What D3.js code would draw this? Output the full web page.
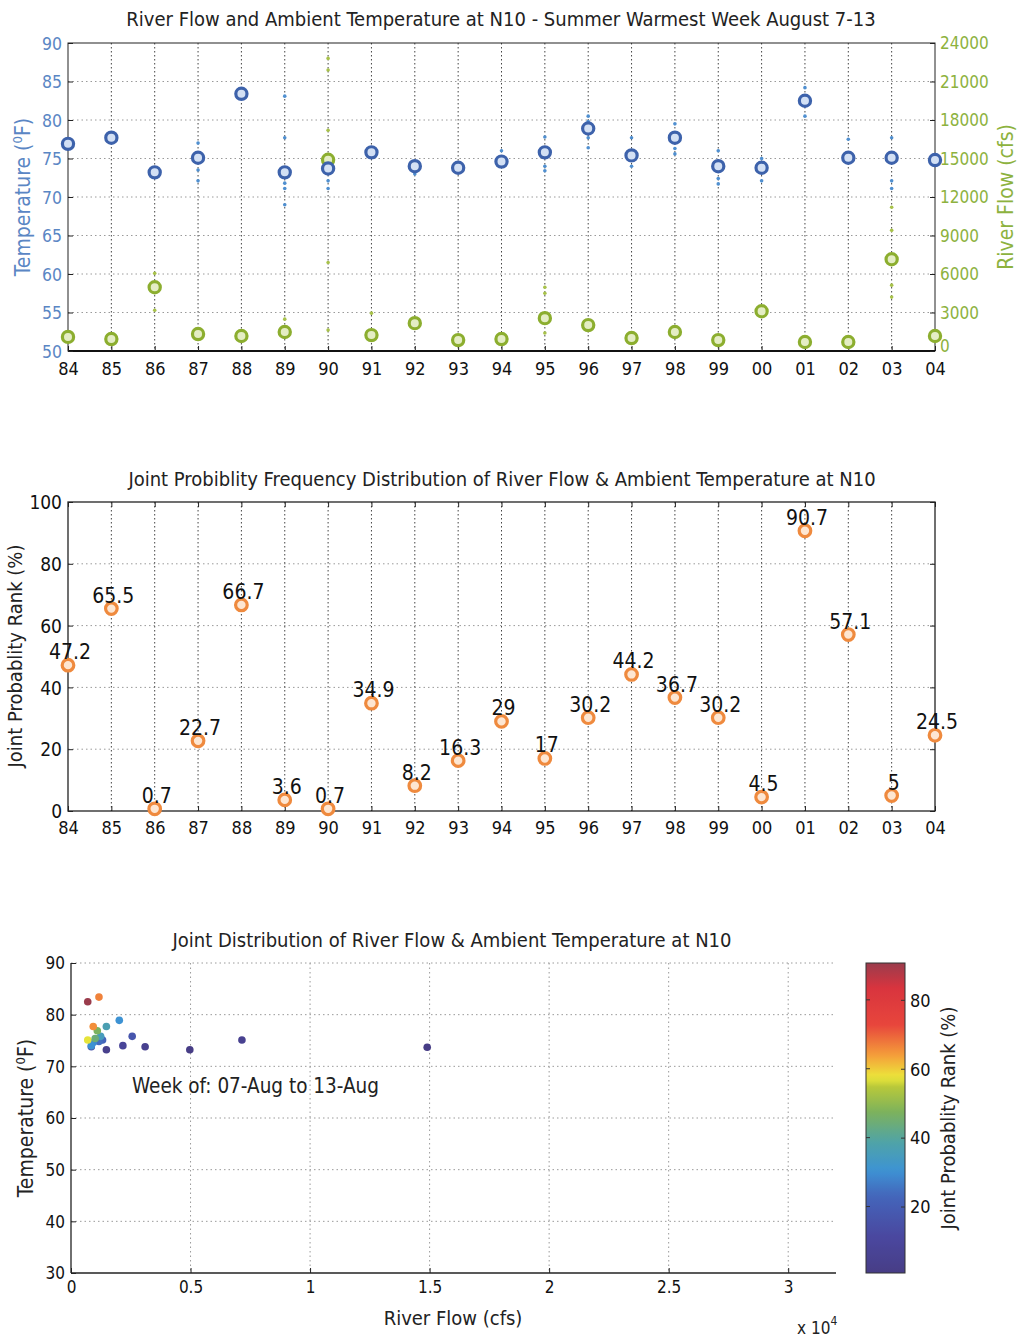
<!DOCTYPE html>
<html><head><meta charset="utf-8">
<script src="https://cdn.jsdelivr.net/npm/d3@7"></script>
<style>
body{margin:0;background:#fff;}
text{font-family:'Liberation Sans Narrow','Arial Narrow','DejaVu Sans Condensed','Liberation Sans',sans-serif;}
</style></head><body>
<svg id="c" width="1020" height="1339" xmlns="http://www.w3.org/2000/svg"></svg>
<script>
// ---------------- DATA ----------------
const years = ["84","85","86","87","88","89","90","91","92","93","94","95","96","97","98","99","00","01","02","03","04"];
const temperature = [76.9,77.7,73.2,75.1,83.4,73.2,73.7,75.8,74.0,73.8,74.6,75.8,78.9,75.4,77.7,74.0,73.8,82.5,75.1,75.1,74.8];
const flow = [1100,930,4970,1320,1170,1480,14900,1240,2170,850,930,2560,2020,1010,1480,850,3100,700,700,7150,1170];
const rank = [47.2,65.5,0.7,22.7,66.7,3.6,0.7,34.9,8.2,16.3,29,17,30.2,44.2,36.7,30.2,4.5,90.7,57.1,5,24.5];
const rankLabels = ["47.2","65.5","0.7","22.7","66.7","3.6","0.7","34.9","8.2","16.3","29","17","30.2","44.2","36.7","30.2","4.5","90.7","57.1","5","24.5"];
// daily values shown as small dots along each year
const dailyTemp = [["87",77.0],["87",73.5],["87",72.1],["89",83.1],["89",77.7],["89",71.8],["89",71.1],["89",69.0],
  ["90",72.1],["90",71.1],["92",73.0],["94",76.0],["95",77.8],["95",74.0],["95",73.4],["96",80.5],["96",79.8],["96",77.7],["96",76.4],
  ["97",77.7],["97",74.0],["98",79.5],["98",76.3],["98",75.6],["99",76.0],["99",72.4],["99",71.7],["00",75.0],["00",72.1],
  ["01",84.2],["01",80.5],["02",77.5],["03",77.7],["03",72.1],["03",71.1]];
const dailyFlow = [["86",6050],["86",3180],["89",2480],["90",22800],["90",21900],["90",17200],["90",6900],["90",1630],["91",2950],
  ["95",4970],["95",4500],["95",1400],["03",11200],["03",9400],["03",5130],["03",4200]];
const tempTicks = [50,55,60,65,70,75,80,85,90];
const flowTicks = [0,3000,6000,9000,12000,15000,18000,21000,24000];
const rankTicks = [0,20,40,60,80,100];
const flowTicksB = [0,5000,10000,15000,20000,25000,30000];
const tempTicksB = [30,40,50,60,70,80,90];
const cbarTicks = [20,40,60,80];

// ---------------- SETUP ----------------
const svg = d3.select("#c");
svg.append("rect").attr("width",1020).attr("height",1339).attr("fill","#fff");
const BLUE = "#3d62ab", BLUE_T = "#5a86c4", GREEN = "#8cae2f", GREEN_T = "#8db23e", ORANGE = "#ef8a3e";

function hGrid(g, scale, ticks, x0, x1, color){
  g.selectAll(null).data(ticks).enter().append("line")
    .attr("x1",x0).attr("x2",x1).attr("y1",d=>scale(d)).attr("y2",d=>scale(d))
    .attr("stroke",color||"#9a9a9a").attr("stroke-width",1).attr("stroke-dasharray","1.5,3");
}
function vGrid(g, xs, y0, y1, color){
  g.selectAll(null).data(xs).enter().append("line")
    .attr("x1",d=>d).attr("x2",d=>d).attr("y1",y0).attr("y2",y1)
    .attr("stroke",color||"#444").attr("stroke-width",1).attr("stroke-dasharray","1.5,2.5");
}
function tempLabel(sel){
  sel.append("tspan").text("Temperature (");
  sel.append("tspan").attr("dy",-8).attr("font-size",13).text("0");
  sel.append("tspan").attr("dy",8).text("F)");
}

// ================= CHART 1 =================
const x1 = d3.scalePoint().domain(years).range([68,935]);
const yT = d3.scaleLinear().domain([50,90]).range([351,43]);
const yF = d3.scaleLinear().domain([0,24000]).range([351,43]);
const g1 = svg.append("g");
hGrid(g1, yT, tempTicks.slice(1,-1), 68, 935);
vGrid(g1, years.slice(1,-1).map(d=>x1(d)), 43, 351);
g1.append("rect").attr("x",68).attr("y",43).attr("width",867).attr("height",308).attr("fill","none").attr("stroke","#222").attr("stroke-width",1);
g1.append("line").attr("x1",68).attr("x2",935).attr("y1",351).attr("y2",351).attr("stroke","#111").attr("stroke-width",2.2);

const axL = g1.append("g").attr("transform","translate(68,0)").call(d3.axisLeft(yT).tickValues(tempTicks).tickSizeInner(-5).tickSizeOuter(0).tickPadding(6));
axL.select(".domain").remove();
axL.selectAll("line").attr("stroke","#222");
axL.selectAll("text").attr("fill",BLUE_T).attr("font-size",17.5).attr("dy","0.35em");
const axR = g1.append("g").attr("transform","translate(935,0)").call(d3.axisRight(yF).tickValues(flowTicks).tickSizeInner(-5).tickSizeOuter(0).tickPadding(5).tickFormat(d3.format("d")));
axR.select(".domain").remove();
axR.selectAll("line").attr("stroke","#222");
axR.selectAll("text").attr("fill",GREEN_T).attr("font-size",17).attr("dy",d=>d===0?"0.05em":"0.35em");
const axB1 = g1.append("g").attr("transform","translate(0,351)").call(d3.axisBottom(x1).tickSizeInner(-5).tickSizeOuter(0).tickPadding(11));
axB1.select(".domain").remove();
axB1.selectAll("line").attr("stroke","#222");
axB1.selectAll("text").attr("fill","#111").attr("font-size",18);

g1.selectAll(null).data(dailyTemp).enter().append("circle")
  .attr("cx",d=>x1(d[0])).attr("cy",d=>yT(d[1])).attr("r",1.8).attr("fill","#4f8fd0");
g1.selectAll(null).data(dailyFlow).enter().append("circle")
  .attr("cx",d=>x1(d[0])).attr("cy",d=>yF(d[1])).attr("r",1.8).attr("fill","#a8c24a");

g1.selectAll(null).data(years).enter().append("circle")
  .attr("cx",d=>x1(d)).attr("cy",(d,i)=>yF(flow[i])).attr("r",5.6)
  .attr("fill","#e4edc4").attr("stroke",GREEN).attr("stroke-width",3.2);
g1.selectAll(null).data(years).enter().append("circle")
  .attr("cx",d=>x1(d)).attr("cy",(d,i)=>yT(temperature[i])).attr("r",5.6)
  .attr("fill","#d3e0f4").attr("stroke",BLUE).attr("stroke-width",3.2);

g1.append("text").attr("x",501).attr("y",26).attr("text-anchor","middle").attr("font-size",20).attr("fill","#222")
  .text("River Flow and Ambient Temperature at N10 - Summer Warmest Week August 7-13");
g1.append("text").attr("transform","translate(30,197) rotate(-90)").attr("text-anchor","middle").attr("font-size",21).attr("fill",BLUE_T)
  .call(tempLabel);
g1.append("text").attr("transform","translate(1013,197) rotate(-90)").attr("text-anchor","middle").attr("font-size",21).attr("fill",GREEN_T)
  .text("River Flow (cfs)");

// ================= CHART 2 =================
const yR = d3.scaleLinear().domain([0,100]).range([811,502]);
const g2 = svg.append("g");
hGrid(g2, yR, rankTicks.slice(1,-1), 68, 935);
vGrid(g2, years.slice(1,-1).map(d=>x1(d)), 502, 811);
g2.append("rect").attr("x",68).attr("y",502).attr("width",867).attr("height",309).attr("fill","none").attr("stroke","#222").attr("stroke-width",1.3);
const axL2 = g2.append("g").attr("transform","translate(68,0)").call(d3.axisLeft(yR).tickValues(rankTicks).tickSizeInner(-5).tickSizeOuter(0).tickPadding(6));
axL2.select(".domain").remove();
axL2.selectAll("line").attr("stroke","#222");
axL2.selectAll("text").attr("fill","#111").attr("font-size",19).attr("dy","0.35em");
const axR2 = g2.append("g").attr("transform","translate(935,0)").call(d3.axisRight(yR).tickValues(rankTicks).tickSizeInner(-5).tickSizeOuter(0).tickFormat(""));
axR2.select(".domain").remove(); axR2.selectAll("line").attr("stroke","#222");
const axB2 = g2.append("g").attr("transform","translate(0,811)").call(d3.axisBottom(x1).tickSizeInner(-5).tickSizeOuter(0).tickPadding(10));
axB2.select(".domain").remove();
axB2.selectAll("line").attr("stroke","#222");
axB2.selectAll("text").attr("fill","#111").attr("font-size",18);
const axT2 = g2.append("g").attr("transform","translate(0,502)").call(d3.axisTop(x1).tickSizeInner(-5).tickSizeOuter(0).tickFormat(""));
axT2.select(".domain").remove(); axT2.selectAll("line").attr("stroke","#222");

g2.selectAll(null).data(years).enter().append("circle")
  .attr("cx",d=>x1(d)).attr("cy",(d,i)=>yR(rank[i])).attr("r",5.8)
  .attr("fill","#fde6d2").attr("stroke",ORANGE).attr("stroke-width",3.2);
g2.selectAll(null).data(years).enter().append("text")
  .attr("x",d=>x1(d)+2).attr("y",(d,i)=>yR(rank[i])-6).attr("text-anchor","middle")
  .attr("font-size",21).attr("fill","#111").text((d,i)=>rankLabels[i]);

g2.append("text").attr("x",502).attr("y",486).attr("text-anchor","middle").attr("font-size",20).attr("fill","#222")
  .text("Joint Probiblity Frequency Distribution of River Flow & Ambient Temperature at N10");
g2.append("text").attr("transform","translate(22,656) rotate(-90)").attr("text-anchor","middle").attr("font-size",20).attr("fill","#222")
  .text("Joint Probablity Rank (%)");

// ================= CHART 3 =================
const xB = d3.scaleLinear().domain([0,32000]).range([71,836]);
const yB = d3.scaleLinear().domain([30,90]).range([1273,963]);
const rMin = d3.min(rank), rMax = d3.max(rank);
const cStops = [0,0.12,0.25,0.33,0.42,0.52,0.6,0.63,0.7,0.8,0.92,1];
const cCols = ["#473d86","#4a48a0","#4466bb","#3d93d4","#4fa3a8","#7db25c","#b8c83a","#ece83a","#f4a03a","#e8463c","#d8343e","#9a3c4c"];
const cmapT = d3.scaleLinear().domain(cStops).range(cCols).interpolate(d3.interpolateRgb);
const cNorm = d3.scaleLinear().domain([rMin,rMax]).range([0,1]);
const cmap = v => cmapT(cNorm(v));

const g3 = svg.append("g");
hGrid(g3, yB, tempTicksB.slice(1), 71, 836);
g3.selectAll(null).data(flowTicksB.slice(1)).enter().append("line")
  .attr("x1",d=>xB(d)).attr("x2",d=>xB(d)).attr("y1",963).attr("y2",1273)
  .attr("stroke","#9a9a9a").attr("stroke-dasharray","1.5,3");
g3.append("line").attr("x1",71).attr("x2",71).attr("y1",963).attr("y2",1273).attr("stroke","#222").attr("stroke-width",1.3);
g3.append("line").attr("x1",71).attr("x2",836).attr("y1",1273).attr("y2",1273).attr("stroke","#222").attr("stroke-width",1.5);
const axL3 = g3.append("g").attr("transform","translate(71,0)").call(d3.axisLeft(yB).tickValues(tempTicksB).tickSizeInner(-5).tickSizeOuter(0).tickPadding(6));
axL3.select(".domain").remove(); axL3.selectAll("line").attr("stroke","#222");
axL3.selectAll("text").attr("fill","#111").attr("font-size",17).attr("dy","0.35em");
const axB3 = g3.append("g").attr("transform","translate(0,1273)").call(d3.axisBottom(xB).tickValues(flowTicksB).tickSizeInner(-5).tickSizeOuter(0).tickPadding(8).tickFormat(d=>d3.format("")(d/1e4)));
axB3.select(".domain").remove(); axB3.selectAll("line").attr("stroke","#222");
axB3.selectAll("text").attr("fill","#111").attr("font-size",17);

const order = d3.range(years.length).sort((a,b)=>rank[a]-rank[b]);
g3.selectAll(null).data(order).enter().append("circle")
  .attr("cx",i=>xB(flow[i])).attr("cy",i=>yB(temperature[i])).attr("r",3.8)
  .attr("fill",i=>cmap(rank[i]));

g3.append("text").attr("x",452).attr("y",947).attr("text-anchor","middle").attr("font-size",20).attr("fill","#222")
  .text("Joint Distribution of River Flow & Ambient Temperature at N10");
g3.append("text").attr("x",132).attr("y",1093).attr("font-size",20.5).attr("fill","#222").text("Week of: 07-Aug to 13-Aug");
g3.append("text").attr("transform","translate(33,1118) rotate(-90)").attr("text-anchor","middle").attr("font-size",21).attr("fill","#222")
  .call(tempLabel);
g3.append("text").attr("x",453).attr("y",1325).attr("text-anchor","middle").attr("font-size",20).attr("fill","#222").text("River Flow (cfs)");
const x10 = g3.append("text").attr("x",797).attr("y",1334).attr("font-size",17).attr("fill","#222");
x10.append("tspan").text("x 10");
x10.append("tspan").attr("dy",-9).attr("font-size",12).text("4");

// colorbar
const cbY = d3.scaleLinear().domain([rMin,rMax]).range([1273,963]);
const defs = svg.append("defs");
const grad = defs.append("linearGradient").attr("id","cb").attr("x1",0).attr("x2",0).attr("y1",1).attr("y2",0);
grad.selectAll("stop").data(d3.range(0,1.0001,0.02)).enter().append("stop")
  .attr("offset",d=>d).attr("stop-color",d=>cmapT(d));
g3.append("rect").attr("x",866).attr("y",963).attr("width",39).attr("height",310).attr("fill","url(#cb)").attr("stroke","#333").attr("stroke-width",1);
const axC = g3.append("g").attr("transform","translate(905,0)").call(d3.axisRight(cbY).tickValues(cbarTicks).tickSizeInner(-4).tickSizeOuter(0).tickPadding(5));
axC.select(".domain").remove(); axC.selectAll("line").attr("stroke","#333");
axC.selectAll("text").attr("fill","#111").attr("font-size",18).attr("dy","0.35em");
g3.selectAll(null).data(cbarTicks).enter().append("line")
  .attr("x1",866).attr("x2",870).attr("y1",d=>cbY(d)).attr("y2",d=>cbY(d)).attr("stroke","#333");
g3.append("text").attr("transform","translate(955,1118) rotate(-90)").attr("text-anchor","middle").attr("font-size",20).attr("fill","#222")
  .text("Joint Probablity Rank (%)");
</script>
</body></html>
